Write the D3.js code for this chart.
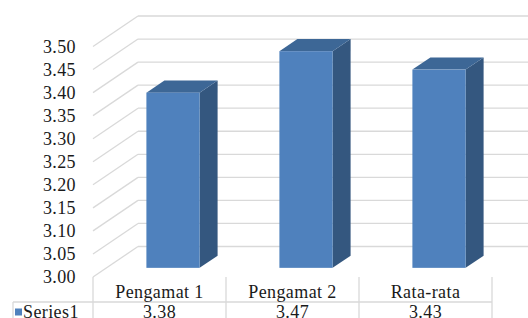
<!DOCTYPE html>
<html>
<head>
<meta charset="utf-8">
<script src="https://cdn.jsdelivr.net/npm/d3@7"></script>
<style>
  html, body { margin: 0; padding: 0; background: #fff; }
  svg { display: block; }
</style>
</head>
<body>
<svg id="chart" width="528" height="318"></svg>
<script>
const categories = ["Pengamat 1", "Pengamat 2", "Rata-rata"];
const seriesName = "Series1";
const values = [3.38, 3.47, 3.43];
const tickValues = [3.00, 3.05, 3.10, 3.15, 3.20, 3.25, 3.30, 3.35, 3.40, 3.45, 3.50];

const W = 528, H = 318;
const FONT = "'Liberation Serif', 'Times New Roman', serif";
const svg = d3.select("#chart").attr("font-family", FONT);

// 3D projection parameters
const depthDX = 45, depthDY = -30.5;
const y = d3.scaleLinear().domain([3.0, 3.5]).range([277, 46.5]);
const x = d3.scaleBand().domain(categories).range([93, 492]).padding(0);
const fmt = d3.format(".2f");

const gridColor = "#d9d9d9";
const textColor = "#1a1a1a";
const g = svg.append("g");

// side wall diagonals + back wall gridlines
tickValues.forEach(t => {
  const yf = y(t), yb = y(t) + depthDY;
  g.append("line").attr("x1", 93).attr("y1", yf).attr("x2", 93 + depthDX).attr("y2", yb)
    .attr("stroke", gridColor).attr("stroke-width", 1.3);
  g.append("line").attr("x1", 93 + depthDX).attr("y1", yb).attr("x2", W).attr("y2", yb)
    .attr("stroke", gridColor).attr("stroke-width", 1.3);
});

// axis labels
g.selectAll("text.tick").data(tickValues).join("text")
  .attr("class", "tick")
  .attr("x", 76).attr("y", d => y(d))
  .attr("text-anchor", "end").attr("dominant-baseline", "central")
  .attr("font-family", FONT).attr("font-size", 18).attr("letter-spacing", 0.4).attr("fill", textColor)
  .text(d => fmt(d));

// bars
const z0 = 0.3, z1 = 0.7;
const barW = x.bandwidth() * 0.4;
const base = 3.0;
const frontColor = "#4f81bd", sideColor = "#34577f", topColor = "#3d6796";

values.forEach((v, i) => {
  const cx = x(categories[i]) + x.bandwidth() / 2 + z0 * depthDX;
  const x0 = cx - barW / 2, x1 = cx + barW / 2;
  const oy0 = z0 * depthDY;
  const yt = y(v) + oy0, yb = y(base) + oy0;
  const ddx = (z1 - z0) * depthDX, ddy = (z1 - z0) * depthDY;
  g.append("path")
    .attr("d", `M${x1},${yt} L${x1 + ddx},${yt + ddy} L${x1 + ddx},${yb + ddy} L${x1},${yb} Z`)
    .attr("fill", sideColor);
  g.append("path")
    .attr("d", `M${x0},${yt} L${x0 + ddx},${yt + ddy} L${x1 + ddx},${yt + ddy} L${x1},${yt} Z`)
    .attr("fill", topColor);
  g.append("rect")
    .attr("x", x0).attr("y", yt).attr("width", barW).attr("height", yb - yt)
    .attr("fill", frontColor);
});

// data table
const tableTop = 277, rowSplit = 302;
const tbl = svg.append("g");
const edges = [93].concat(categories.map(c => x(c) + x.bandwidth()));
edges.forEach(ex => {
  tbl.append("line").attr("x1", ex).attr("y1", tableTop).attr("x2", ex).attr("y2", H)
    .attr("stroke", gridColor).attr("stroke-width", 1.3);
});
tbl.append("line").attr("x1", 13).attr("y1", rowSplit).attr("x2", 492).attr("y2", rowSplit)
  .attr("stroke", gridColor).attr("stroke-width", 1.3);
tbl.append("line").attr("x1", 13).attr("y1", rowSplit).attr("x2", 13).attr("y2", H)
  .attr("stroke", gridColor).attr("stroke-width", 1.3);

tbl.selectAll("text.cat").data(categories).join("text")
  .attr("class", "cat")
  .attr("x", d => x(d) + x.bandwidth() / 2).attr("y", 291.5)
  .attr("text-anchor", "middle").attr("dominant-baseline", "central")
  .attr("font-family", FONT).attr("font-size", 18).attr("letter-spacing", 0.4).attr("fill", textColor)
  .text(d => d);

tbl.selectAll("text.val").data(values).join("text")
  .attr("class", "val")
  .attr("x", (d, i) => x(categories[i]) + x.bandwidth() / 2).attr("y", 311.5)
  .attr("text-anchor", "middle").attr("dominant-baseline", "central")
  .attr("font-family", FONT).attr("font-size", 18).attr("letter-spacing", 0.4).attr("fill", textColor)
  .text(d => fmt(d));

tbl.append("rect").attr("x", 15).attr("y", 308.5).attr("width", 7).attr("height", 7).attr("fill", frontColor);
tbl.append("text").attr("x", 23).attr("y", 311.5)
  .attr("dominant-baseline", "central")
  .attr("font-family", FONT).attr("font-size", 18).attr("letter-spacing", 0.4).attr("fill", textColor)
  .text(seriesName);
</script>
</body>
</html>
